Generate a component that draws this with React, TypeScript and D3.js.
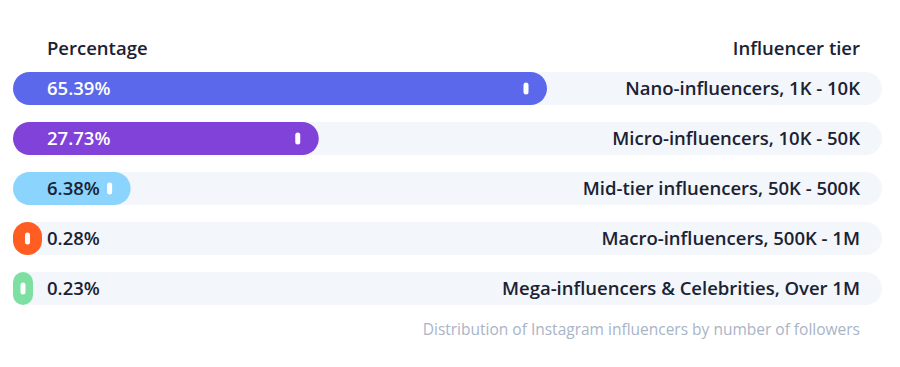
import React from 'react';
import { scaleBand, scalePow } from 'd3';

const tiers = [
  'Nano-influencers, 1K - 10K',
  'Micro-influencers, 10K - 50K',
  'Mid-tier influencers, 50K - 500K',
  'Macro-influencers, 500K - 1M',
  'Mega-influencers & Celebrities, Over 1M',
];
const shares = [65.39, 27.73, 6.38, 0.28, 0.23];
const colors = ['#5c68eb', '#8142d9', '#8ad4fd', '#ff5d22', '#7ddfa1'];
const darkText = [false, false, true, true, true];

const width = 900;
const height = 367;
const left = 13;
const right = 882;
const top = 72;
const rowStep = 50;
const barH = 33;

const font = '"Open Sans", sans-serif';

function App() {
  const yScale = scaleBand<string>()
    .domain(tiers)
    .range([top, top + rowStep * (tiers.length - 1) + barH])
    .paddingInner((rowStep - barH) / rowStep)
    .paddingOuter(0);

  const xScale = scalePow()
    .exponent(0.65)
    .domain([0, 65.39])
    .range([0, 534]);

  const bw = yScale.bandwidth();

  return (
    <svg width={width} height={height} style={{ position: 'absolute', left: 0, top: 0 }}>
      <text x={47} y={55} fontFamily={font} fontSize={18.5} fontWeight={600} fill="#1a2233">
        Percentage
      </text>
      <text x={860} y={55} textAnchor="end" fontFamily={font} fontSize={18.5} fontWeight={600} fill="#1a2233">
        Influencer tier
      </text>
      {tiers.map((t, i) => {
        const y = yScale(t)!;
        const w = Math.max(xScale(shares[i]), i === 3 ? 29 : 20);
        const mx = Math.max(left + w - 21, left + w / 2);
        return (
          <g key={t}>
            <rect x={left} y={y} width={right - left} height={bw} rx={bw / 2} fill="#f3f6fa" />
            <rect x={left} y={y} width={w} height={bw} rx={Math.min(bw / 2, w / 2)} fill={colors[i]} />
            <rect x={mx - 2.5} y={y + bw / 2 - 6} width={5} height={12} rx={2.5} fill="#ffffff" />
            <text
              x={47}
              y={y + bw / 2 + 6.5}
              fontFamily={font}
              fontSize={18.5}
              fontWeight={600}
              fill={darkText[i] ? '#1a2233' : '#ffffff'}
            >
              {shares[i].toFixed(2)}%
            </text>
            <text
              x={860}
              y={y + bw / 2 + 6.5}
              textAnchor="end"
              fontFamily={font}
              fontSize={18.5}
              fontWeight={600}
              fill="#1a2233"
            >
              {t}
            </text>
          </g>
        );
      })}
      <text x={860} y={335} textAnchor="end" fontFamily={font} fontSize={15.5} fill="#a9b4c6">
        Distribution of Instagram influencers by number of followers
      </text>
    </svg>
  );
}

export default App;
